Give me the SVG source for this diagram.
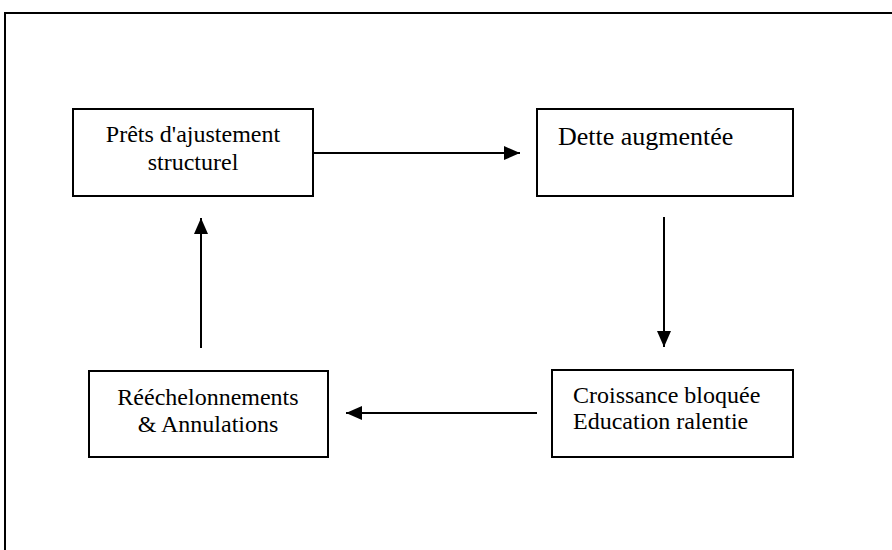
<svg xmlns="http://www.w3.org/2000/svg" width="892" height="550" viewBox="0 0 892 550">
<style>
.frame{fill:none;stroke:#000;stroke-width:2}
.box{fill:#fff;stroke:#000;stroke-width:2}
.conn{stroke:#000;stroke-width:2;fill:none;marker-end:url(#ah)}
text{font-family:'Liberation Serif','Times New Roman','DejaVu Serif',serif;font-size:24px;fill:#000}
</style>
<defs>
<marker id="ah" viewBox="0 0 16 14" refX="16" refY="7" markerWidth="16" markerHeight="14" markerUnits="userSpaceOnUse" orient="auto">
<path d="M0,0 L16,7 L0,14 Z" fill="#000"/>
</marker>
</defs>
<rect width="892" height="550" fill="#fff"/>
<path class="frame" d="M5,560 V13 H900"/>
<g id="connectors">
<line class="conn" x1="313" y1="153" x2="520" y2="153"/>
<line class="conn" x1="664" y1="217" x2="664" y2="347"/>
<line class="conn" x1="537" y1="413" x2="346" y2="413"/>
<line class="conn" x1="201" y1="348" x2="201" y2="218"/>
</g>
<g id="n1">
<rect class="box" x="73" y="109" width="240" height="87"/>
<text x="193" y="142" text-anchor="middle">Prêts d'ajustement</text>
<text x="193" y="170" text-anchor="middle">structurel</text>
</g>
<g id="n2">
<rect class="box" x="537" y="109" width="256" height="87"/>
<text x="558" y="145" style="font-size:26px">Dette augmentée</text>
</g>
<g id="n3">
<rect class="box" x="552" y="370" width="241" height="87"/>
<text x="573" y="403">Croissance bloquée</text>
<text x="573" y="429">Education ralentie</text>
</g>
<g id="n4">
<rect class="box" x="89" y="371" width="239" height="86"/>
<text x="208" y="405" text-anchor="middle">Rééchelonnements</text>
<text x="208" y="432" text-anchor="middle">&amp; Annulations</text>
</g>
</svg>
